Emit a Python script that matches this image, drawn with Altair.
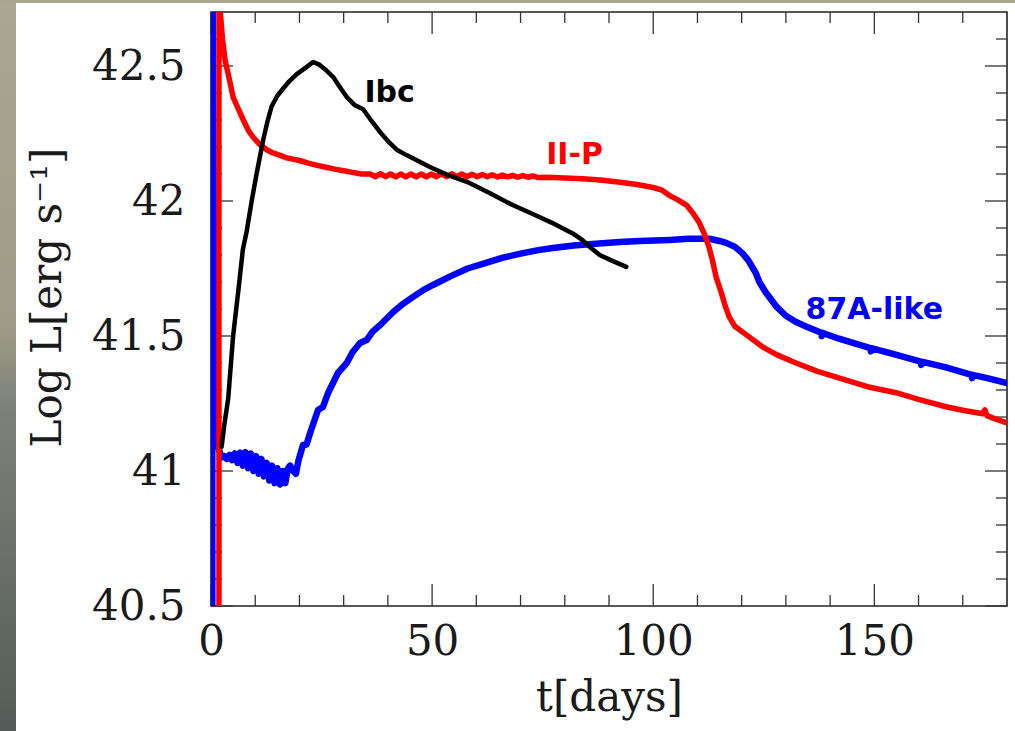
import altair as alt
import pandas as pd

# ---------------- data ----------------
# II-P (red)
iip_t = [1.8, 1.8, 2.1, 2.6, 3.2, 3.9, 5.0, 6.2, 7.3, 8.5, 9.5, 11.0, 12.6, 14.0, 15.5,
         17.0, 18.5, 20.0, 22.0, 24.0, 26.0, 28.0, 30.0, 32.0, 34.0,
         36.0, 37.2, 38.3, 39.5, 40.6, 41.8, 42.9, 44.1, 45.2, 46.4, 47.5, 48.7, 49.8,
         51.0, 52.1, 53.3, 54.4, 55.6, 56.7, 57.9, 59.0, 60.2, 61.3, 62.5, 63.6, 64.8,
         65.9, 67.1, 68.2, 69.4, 70.5, 71.7, 72.8, 74.0,
         76.0, 80.0, 84.0, 88.0, 92.0, 96.0, 100.0, 102.0, 103.7, 105.5, 107.5, 109.0,
         110.4, 111.5, 112.6, 113.4, 114.2, 115.4, 116.3, 117.2, 118.5, 121.0, 124.7,
         128.0, 132.3, 137.0, 143.6, 149.0, 154.9, 160.0, 166.2, 170.0, 174.5, 175.0,
         175.5, 177.0, 180.0]
iip_L = [40.30, 43.00, 42.70, 42.60, 42.52, 42.47, 42.385, 42.34, 42.30, 42.26, 42.237,
         42.21, 42.19, 42.178, 42.170, 42.160, 42.155, 42.150, 42.140, 42.132, 42.125,
         42.118, 42.112, 42.106, 42.100,
         42.100, 42.090, 42.101, 42.090, 42.100, 42.089, 42.100, 42.089, 42.100, 42.089,
         42.100, 42.089, 42.100, 42.090, 42.101, 42.090, 42.101, 42.090, 42.100, 42.090,
         42.099, 42.090, 42.098, 42.090, 42.097, 42.089, 42.096, 42.089, 42.095, 42.088,
         42.094, 42.088, 42.093, 42.087,
         42.088, 42.085, 42.082, 42.078, 42.070, 42.062, 42.050, 42.040, 42.020, 42.005,
         41.985, 41.955, 41.920, 41.880, 41.830, 41.780, 41.720, 41.660, 41.610, 41.570,
         41.535, 41.505, 41.460, 41.430, 41.400, 41.370, 41.337, 41.310, 41.290, 41.265,
         41.238, 41.225, 41.212, 41.226, 41.205, 41.195, 41.178]

# 87A-like (blue)
a87_t = [0.3, 0.3, 0.5, 0.7, 0.9, 1.3, 1.8, 2.4,
         3.0, 3.6, 4.2, 4.8, 5.4, 6.0, 6.6, 7.2, 7.8, 8.4, 9.0, 9.6, 10.2, 10.8, 11.4,
         12.0, 12.6, 13.2, 13.8, 14.4, 15.0, 15.6, 16.2, 16.8, 17.4, 17.9, 18.6, 19.2,
         19.8, 20.8, 21.6, 22.6, 24.2, 25.3, 26.5, 28.7, 30.7, 32.0, 33.7, 35.2, 36.5,
         38.2, 41.2, 43.5, 45.7, 48.0, 50.2, 54.0, 58.0, 62.0, 66.0, 70.0, 74.0, 77.3,
         82.0, 87.0, 92.4, 97.0, 103.7, 108.0, 112.7, 115.0, 116.5, 118.5, 120.2, 121.5,
         123.2, 124.0, 125.5, 127.8, 130.0, 132.3, 135.0, 138.0, 138.1, 138.2, 142.0,
         149.1, 149.2, 149.3, 154.0, 160.5, 160.6, 160.7, 166.0, 172.0, 172.1, 172.2,
         176.0, 180.0]
a87_L = [40.30, 43.00, 42.30, 41.70, 41.35, 41.17, 41.08, 41.050,
         41.055, 41.045, 41.060, 41.040, 41.065, 41.030, 41.068, 41.020, 41.070, 41.010,
         41.065, 41.000, 41.055, 40.990, 41.045, 40.980, 41.030, 40.965, 41.020, 40.955,
         41.010, 40.950, 41.000, 40.955, 41.010, 41.020, 41.000, 40.990,
         41.040, 41.096, 41.098, 41.150, 41.226, 41.237, 41.290, 41.363, 41.400, 41.440,
         41.474, 41.485, 41.515, 41.540, 41.589, 41.620, 41.645, 41.670, 41.689, 41.720,
         41.750, 41.770, 41.790, 41.805, 41.818, 41.826, 41.835, 41.842, 41.848, 41.852,
         41.856, 41.860, 41.860, 41.852, 41.845, 41.830, 41.806, 41.780, 41.733, 41.700,
         41.660, 41.610, 41.575, 41.552, 41.532, 41.512, 41.500, 41.512, 41.490,
         41.455, 41.443, 41.455, 41.435, 41.405, 41.393, 41.405, 41.385, 41.356, 41.344,
         41.356, 41.342, 41.326]

# Ibc (black)
ibc_t = [2.4, 3.0, 3.9, 5.0, 6.2, 7.2, 8.1, 9.2, 10.3, 11.8, 12.7, 13.7, 15.0, 16.0,
         17.5, 19.4, 21.5, 23.1, 24.5, 26.0, 27.6, 29.0, 30.7, 32.5, 34.4, 35.5, 36.6,
         38.5, 40.4, 42.0, 44.2, 47.2, 49.5, 53.6, 58.0, 63.0, 68.2, 73.0, 77.0, 81.8,
         84.0, 86.0, 87.9, 90.5, 93.9]
ibc_L = [41.09, 41.17, 41.27, 41.50, 41.67, 41.82, 41.89, 42.00, 42.10, 42.226, 42.29,
         42.35, 42.39, 42.41, 42.44, 42.47, 42.495, 42.515, 42.505, 42.485, 42.46, 42.425,
         42.385, 42.355, 42.34, 42.315, 42.29, 42.25, 42.215, 42.19, 42.17, 42.145, 42.126,
         42.096, 42.07, 42.03, 41.985, 41.95, 41.92, 41.88, 41.855, 41.825, 41.80, 41.78,
         41.756]

# curve labels
lab_text = ["Ibc", "II-P", "87A-like"]
lab_t = [40.4, 82.2, 150.0]
lab_L = [42.40, 42.17, 41.596]
lab_col = ["#000000", "#ff0000", "#0000ff"]

# axis ticks
x_major = [0, 50, 100, 150]
x_minor = [10, 20, 30, 40, 60, 70, 80, 90, 110, 120, 130, 140, 160, 170]
y_major = [40.5, 41.0, 41.5, 42.0, 42.5]
y_minor = [40.6, 40.7, 40.8, 40.9, 41.1, 41.2, 41.3, 41.4, 41.6, 41.7, 41.8, 41.9,
           42.1, 42.2, 42.3, 42.4, 42.6]

# ---------------- chart ----------------
W, H = 796, 594
SERIF = "DejaVu Serif"

xs = alt.Scale(domain=[0, 180], nice=False, zero=False)
ys = alt.Scale(domain=[40.5, 42.7], nice=False, zero=False)

xax = alt.Axis(title="t[days]", values=x_major, ticks=False, tickSize=0, domain=False,
               grid=False, labelFont=SERIF, labelFontSize=42, labelColor="#1a1a1a",
               labelPadding=15, labelFlush=False, labelOverlap=False, labelBound=False,
               titleFont=SERIF, titleFontSize=42, titleFontWeight="normal",
               titleColor="#1a1a1a", titleY=104, titleBaseline="alphabetic")
yax = alt.Axis(title="Log L[erg s⁻¹]", values=y_major, format=".1~f", ticks=False,
               tickSize=0, domain=False, grid=False, labelFont=SERIF, labelFontSize=42,
               labelColor="#1a1a1a", labelPadding=26, labelFlush=False, labelOverlap=False,
               labelBound=False, titleFont=SERIF, titleFontSize=42,
               titleFontWeight="normal", titleColor="#1a1a1a", titleAngle=270,
               titleX=-151, titleY=285, titleAlign="center", titleBaseline="alphabetic")


def X(f):
    return alt.X(f, type="quantitative", scale=xs, axis=xax)


def Y(f):
    return alt.Y(f, type="quantitative", scale=ys, axis=yax)


def series(t, L):
    return pd.DataFrame({"t": t, "L": L, "i": list(range(len(t)))})


dummy = pd.DataFrame({"a": [0]})
left_strip = alt.Chart(dummy).mark_rect(
    color={"gradient": "linear", "x1": 0, "x2": 0, "y1": 0, "y2": 1,
           "stops": [{"offset": 0, "color": "#aaa78e"},
                     {"offset": 0.45, "color": "#9e9c86"},
                     {"offset": 0.55, "color": "#7e827a"},
                     {"offset": 1, "color": "#555b58"}]}
).encode(x=alt.value(-211), x2=alt.value(-195), y=alt.value(-12), y2=alt.value(719))
top_strip = alt.Chart(dummy).mark_rect(color="#a9a68d").encode(
    x=alt.value(-211), x2=alt.value(804), y=alt.value(-12), y2=alt.value(-9))


def line(t, L, col, sw):
    return alt.Chart(series(t, L)).mark_line(
        color=col, strokeWidth=sw, clip=True, strokeJoin="round", strokeCap="round"
    ).encode(x=X("t"), y=Y("L"), order=alt.Order("i:Q"))


blue = line(a87_t, a87_L, "#0000ff", 6.5)
red = line(iip_t, iip_L, "#ff0000", 5.5)
black = line(ibc_t, ibc_L, "#000000", 4.5)

labels = alt.Chart(pd.DataFrame({"txt": lab_text, "t": lab_t, "L": lab_L, "c": lab_col})).mark_text(
    font="DejaVu Sans", fontWeight="bold", fontSize=30, align="center", baseline="middle"
).encode(x=X("t"), y=Y("L"), text="txt:N", color=alt.Color("c:N", scale=None))

tick_style = dict(color="#333333", strokeWidth=1.3)


def xticks(vals, ln):
    d = pd.DataFrame({"t": vals})
    bot = alt.Chart(d).mark_rule(**tick_style).encode(x=X("t"), y=alt.value(H), y2=alt.value(H - ln))
    top = alt.Chart(d).mark_rule(**tick_style).encode(x=X("t"), y=alt.value(0), y2=alt.value(ln))
    return [bot, top]


def yticks(vals, ln):
    d = pd.DataFrame({"L": vals})
    lft = alt.Chart(d).mark_rule(**tick_style).encode(y=Y("L"), x=alt.value(0), x2=alt.value(ln))
    rgt = alt.Chart(d).mark_rule(**tick_style).encode(y=Y("L"), x=alt.value(W), x2=alt.value(W - ln))
    return [lft, rgt]


layers = [left_strip, top_strip] + xticks(x_major, 22) + xticks(x_minor, 11) + \
    yticks(y_major, 22) + yticks(y_minor, 11) + [blue, red, black, labels]

chart = alt.layer(*layers).properties(
    width=W, height=H, background="white",
    padding={"left": 211, "top": 12, "right": 8, "bottom": 125},
    autosize=alt.AutoSizeParams(type="none"),
).configure_view(stroke="#222222", strokeWidth=1.6)

chart.save("out.html", embed_options={"renderer": "svg", "actions": False})
